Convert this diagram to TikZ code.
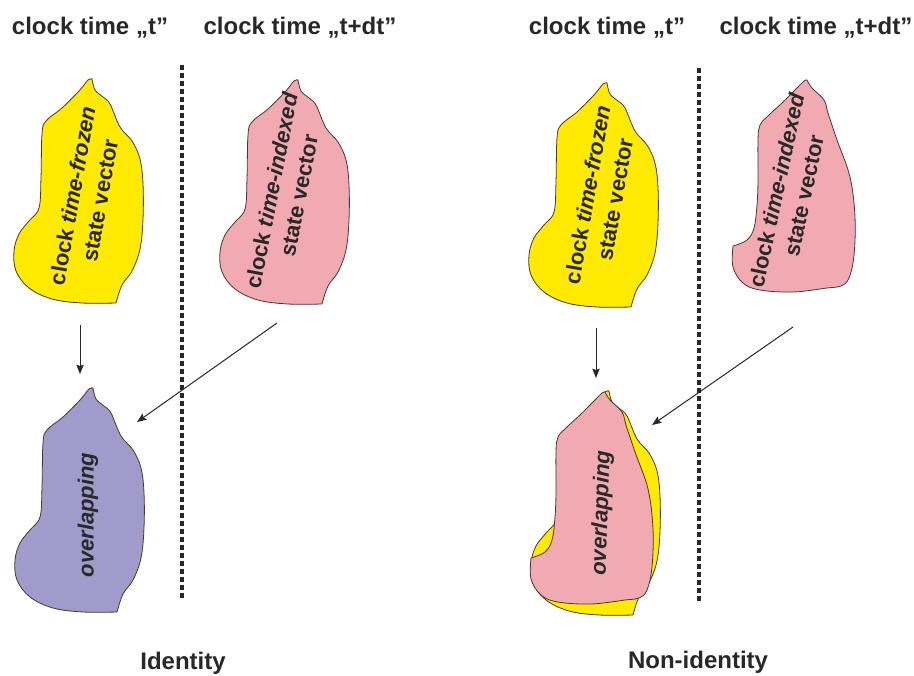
\documentclass[tikz,border=0pt]{standalone}
\usepackage{fontspec}
\setmainfont{Liberation Sans}
\usetikzlibrary{arrows.meta}
\definecolor{blobyellow}{RGB}{255,234,0}
\definecolor{blobpink}{RGB}{242,170,178}
\definecolor{blobpurple}{RGB}{161,155,204}
\definecolor{outline}{RGB}{75,55,45}
\definecolor{txt}{RGB}{40,40,40}
\newcommand{\blobApath}{plot[smooth,tension=0.6] coordinates {(0,0) (3,11) (11,18) (18,25) (28,48) (40,62) (48,80) (51,105) (51,140) (48,170) (40,192) (30,206) (24,224)}
 -- plot[smooth,tension=0.6] coordinates {(24,224) (-10,224) (-40,220) (-63,209) (-76,192) (-78,172) (-73,155) (-63,142) (-53,129) (-51,99) (-50,55) (-46,42) (-30,29) (-13,12) (-4,1) (0,0)} -- cycle}
\newcommand{\blobBpath}{plot[smooth,tension=0.6] coordinates {(0,0) (5,8) (17,20) (21,33) (30,60) (43,97) (48,137) (47,175) (42,198) (34,206) (20,208) (-14,212) (-47,210) (-64,203) (-74,187) (-74,166)}
 -- plot[smooth,tension=0.6] coordinates {(-74,166) (-60,160) (-53,148) (-50,125) (-49,100) (-49,60) (-47,45) (-38,35) (-25,23) (-12,10) (-3,1) (0,0)} -- cycle}
\tikzset{
  blob/.style={draw=outline, line width=0.6pt},
  title/.style={font=\bfseries\fontsize{18}{21}\selectfont, text=txt, inner sep=0pt},
  blobtext/.style={font=\bfseries\fontsize{16.5}{21}\selectfont, text=txt, align=center, inner sep=0pt},
  divider/.style={draw=txt, line width=2.4pt, dash pattern=on 3.8pt off 2.2pt},
  arrowline/.style={draw=txt, line width=0.75pt, -{Stealth[length=7pt,width=5.5pt,inset=1pt]}}
}
\begin{document}
\begin{tikzpicture}[x=0.75pt,y=-0.75pt]
\useasboundingbox[fill=white] (0,0) rectangle (914,675);
% titles
\node[title] (tl1) at (90,28) {clock time „t”};
\node[title] (tl2) at (300,28) {clock time „t+dt”};
\node[title] (tr1) at (607,28) {clock time „t”};
\node[title] (tr2) at (816,28) {clock time „t+dt”};
\node[title] (idl) at (183,663) {Identity};
\node[title] (nidl) at (698,662) {Non-identity};
% dividers
\coordinate (d1t) at (182,65); \coordinate (d1b) at (182,598);
\coordinate (d2t) at (699,68); \coordinate (d2b) at (699,602);
\draw[divider] (d1t) -- (d1b);
\draw[divider] (d2t) -- (d2b);
% left panel blobs
\draw[blob, fill=blobyellow, shift={(92,79)}] \blobApath;
\draw[blob, fill=blobpink, shift={(298,80)}] \blobApath;
\draw[blob, fill=blobpurple, shift={(93,388)}] \blobApath;
\node[blobtext, rotate=80] (lyt) at (86,198) {clock \textit{time-frozen}\\state vector};
\node[blobtext, rotate=79] (lpt) at (285,193) {clock \textit{time-indexed}\\state vector};
\node[blobtext, rotate=90] (lov) at (88,515) {\textit{overlapping}};
% right panel blobs
\draw[blob, fill=blobyellow, shift={(607,83)}] \blobApath;
\draw[blob, fill=blobpink, shift={(807,80)}] \blobBpath;
\draw[blob, fill=blobyellow, shift={(609,391)}] \blobApath;
\draw[blob, fill=blobpink, shift={(605,392)}] \blobBpath;
\node[blobtext, rotate=80] (ryt) at (601,197) {clock \textit{time-frozen}\\state vector};
\node[blobtext, rotate=78] (rpt) at (790,193) {clock \textit{time-indexed}\\state vector};
\node[blobtext, rotate=88] (rov) at (602,513) {\textit{overlapping}};
% arrows
\coordinate (a1s) at (80,325); \coordinate (a1e) at (80,374);
\coordinate (a2s) at (277,323); \coordinate (a2e) at (137,422);
\coordinate (a3s) at (596,328); \coordinate (a3e) at (596,378);
\coordinate (a4s) at (793,327); \coordinate (a4e) at (652,425);
\draw[arrowline] (a1s) -- (a1e);
\draw[arrowline] (a2s) -- (a2e);
\draw[arrowline] (a3s) -- (a3e);
\draw[arrowline] (a4s) -- (a4e);
\end{tikzpicture}
\end{document}
